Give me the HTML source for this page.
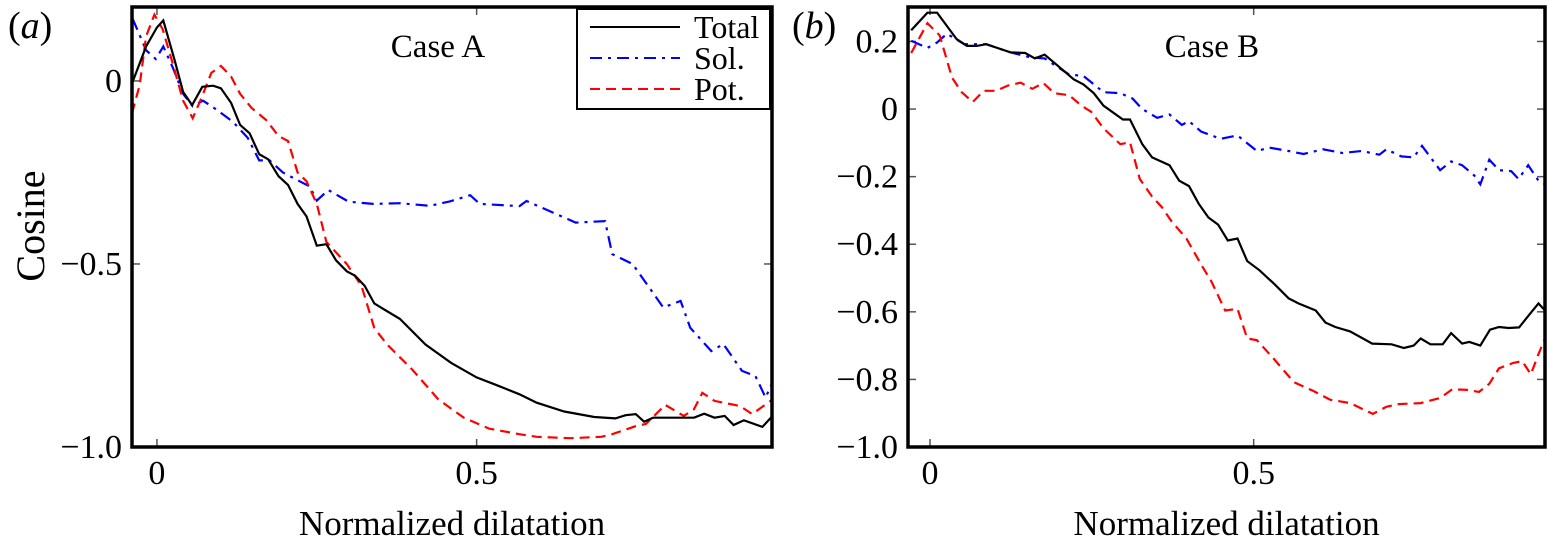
<!DOCTYPE html>
<html><head><meta charset="utf-8"><style>
html,body{margin:0;padding:0;background:#fff;}
svg{display:block;}
svg text{font-family:"Liberation Serif","Times New Roman",serif !important;}
</style></head><body>
<svg id="fig" width="1548" height="549" viewBox="0 0 1548 549"></svg>
<script>
// Panel A data
const aTotalX=[-0.039,-0.017,0,0.01,0.028,0.041,0.055,0.071,0.088,0.10,0.116,0.13,0.145,0.16,0.174,0.19,0.205,0.22,0.234,0.25,0.265,0.28,0.297,0.31,0.325,0.34,0.38,0.42,0.46,0.5,0.53,0.567,0.594,0.637,0.684,0.717,0.733,0.749,0.762,0.776,0.813,0.84,0.856,0.872,0.888,0.902,0.918,0.947,0.966];
const aTotalY=[-0.007,0.094,0.146,0.165,0.055,-0.03,-0.066,-0.016,-0.013,-0.02,-0.06,-0.12,-0.143,-0.2,-0.214,-0.26,-0.284,-0.336,-0.37,-0.45,-0.446,-0.49,-0.52,-0.532,-0.56,-0.608,-0.65,-0.72,-0.77,-0.81,-0.83,-0.856,-0.879,-0.903,-0.918,-0.922,-0.913,-0.91,-0.931,-0.92,-0.92,-0.92,-0.909,-0.92,-0.915,-0.94,-0.927,-0.945,-0.909];
const aSolX=[-0.038,-0.017,-0.002,0.01,0.025,0.041,0.056,0.072,0.093,0.119,0.142,0.16,0.176,0.197,0.223,0.239,0.25,0.268,0.30,0.338,0.38,0.427,0.458,0.49,0.505,0.567,0.578,0.637,0.655,0.701,0.712,0.744,0.792,0.819,0.834,0.867,0.886,0.915,0.936,0.952,0.966];
const aSolY=[0.17,0.084,0.06,0.094,0.036,-0.035,-0.069,-0.054,-0.078,-0.112,-0.155,-0.217,-0.217,-0.25,-0.274,-0.288,-0.327,-0.298,-0.33,-0.336,-0.334,-0.341,-0.329,-0.312,-0.336,-0.342,-0.328,-0.373,-0.387,-0.383,-0.473,-0.5,-0.619,-0.601,-0.674,-0.738,-0.719,-0.792,-0.806,-0.865,-0.81];
const aPotX=[-0.039,-0.027,-0.017,-0.004,0.009,0.025,0.041,0.056,0.07,0.085,0.10,0.116,0.13,0.148,0.171,0.19,0.205,0.22,0.234,0.25,0.265,0.297,0.32,0.34,0.36,0.4,0.44,0.48,0.52,0.567,0.594,0.647,0.695,0.712,0.749,0.765,0.795,0.824,0.84,0.853,0.872,0.912,0.931,0.963];
const aPotY=[-0.088,-0.011,0.122,0.181,0.141,0.046,-0.054,-0.102,-0.045,0.022,0.041,0.012,-0.035,-0.074,-0.107,-0.15,-0.164,-0.25,-0.274,-0.336,-0.44,-0.5,-0.56,-0.675,-0.72,-0.79,-0.87,-0.92,-0.95,-0.965,-0.972,-0.976,-0.972,-0.965,-0.943,-0.937,-0.885,-0.915,-0.897,-0.852,-0.874,-0.888,-0.91,-0.87];
// Panel B data
const bTotalX=[-0.029,-0.004,0.011,0.041,0.057,0.072,0.087,0.124,0.147,0.162,0.177,0.2,0.222,0.237,0.253,0.268,0.298,0.309,0.328,0.343,0.37,0.385,0.4,0.415,0.43,0.445,0.46,0.475,0.49,0.509,0.532,0.554,0.569,0.596,0.611,0.626,0.649,0.683,0.713,0.732,0.747,0.758,0.773,0.792,0.805,0.822,0.833,0.85,0.865,0.879,0.894,0.91,0.928,0.94,0.95];
const bTotalY=[0.233,0.285,0.285,0.207,0.187,0.187,0.192,0.168,0.166,0.15,0.161,0.124,0.088,0.073,0.047,0.01,-0.031,-0.031,-0.104,-0.143,-0.166,-0.212,-0.228,-0.28,-0.321,-0.342,-0.389,-0.383,-0.45,-0.477,-0.518,-0.56,-0.575,-0.596,-0.632,-0.645,-0.658,-0.694,-0.696,-0.707,-0.7,-0.679,-0.696,-0.696,-0.663,-0.694,-0.689,-0.7,-0.653,-0.645,-0.648,-0.646,-0.603,-0.575,-0.596];
const bSolX=[-0.029,-0.004,0.011,0.026,0.053,0.087,0.124,0.155,0.177,0.215,0.237,0.268,0.294,0.313,0.328,0.351,0.37,0.389,0.4,0.419,0.449,0.475,0.505,0.524,0.554,0.577,0.607,0.637,0.667,0.694,0.705,0.728,0.747,0.76,0.788,0.805,0.822,0.841,0.85,0.864,0.879,0.898,0.909,0.924,0.94,0.95];
const bSolY=[0.202,0.181,0.197,0.223,0.192,0.192,0.168,0.153,0.15,0.102,0.098,0.05,0.047,0.031,0,-0.026,-0.016,-0.047,-0.036,-0.067,-0.088,-0.078,-0.124,-0.114,-0.124,-0.133,-0.119,-0.13,-0.124,-0.135,-0.119,-0.14,-0.143,-0.109,-0.181,-0.155,-0.166,-0.197,-0.223,-0.15,-0.181,-0.184,-0.207,-0.166,-0.212,-0.223];
const bPotX=[-0.029,-0.004,0.015,0.034,0.049,0.066,0.083,0.102,0.121,0.14,0.158,0.175,0.192,0.215,0.234,0.249,0.268,0.294,0.309,0.324,0.343,0.358,0.373,0.396,0.419,0.434,0.456,0.475,0.49,0.505,0.532,0.562,0.592,0.618,0.649,0.684,0.705,0.724,0.758,0.788,0.807,0.83,0.848,0.864,0.879,0.901,0.915,0.928,0.94,0.95];
const bPotY=[0.166,0.254,0.218,0.093,0.05,0.021,0.054,0.054,0.07,0.078,0.06,0.077,0.047,0.041,0.01,-0.008,-0.057,-0.104,-0.098,-0.207,-0.259,-0.29,-0.332,-0.383,-0.461,-0.508,-0.596,-0.591,-0.679,-0.684,-0.741,-0.808,-0.834,-0.86,-0.87,-0.902,-0.881,-0.873,-0.87,-0.855,-0.829,-0.831,-0.837,-0.813,-0.767,-0.751,-0.746,-0.785,-0.725,-0.679];
const aYTicks=[0,-0.5,-1.0];
const aYLabels=["0","\u22120.5","\u22121.0"];
const bYTicks=[0.2,0,-0.2,-0.4,-0.6,-0.8,-1.0];
const bYLabels=["0.2","0","\u22120.2","\u22120.4","\u22120.6","\u22120.8","\u22121.0"];
const xTicks=[0,0.5];
const xLabels=["0","0.5"];

const NS="http://www.w3.org/2000/svg";
const svg=document.getElementById('fig');
function mk(tag,attrs,parent){const e=document.createElementNS(NS,tag);for(const k in attrs)e.setAttribute(k,attrs[k]);(parent||svg).appendChild(e);return e;}
function fs(n,extra){return 'font-family:"Liberation Serif",serif;font-size:'+n+'px;'+(extra||'');}

function panel(p){
  const g=mk('g',{});
  
  
  const sx=v=>p.L+(v-p.xmin)/(p.xmax-p.xmin)*(p.R-p.L);
  const sy=v=>p.B-(v-p.ymin)/(p.ymax-p.ymin)*(p.B-p.T);
  p.yt.forEach((v,i)=>{
    const y=sy(v);
    const t1=mk('line',{x1:p.L,x2:p.L+8,y1:y,y2:y,stroke:'#555','stroke-width':1.5},g);
    
    
    const t2=mk('line',{x1:p.R-8,x2:p.R,y1:y,y2:y,stroke:'#555','stroke-width':1.5},g);
    
    
    const tx=mk('text',{x:p.L-10,y:y+11,'text-anchor':'end',style:fs(34),fill:'#000'},g);
    tx.textContent=p.yl[i];
    
    
  });
  xTicks.forEach((v,i)=>{
    const x=sx(v);
    const t1=mk('line',{x1:x,x2:x,y1:p.B,y2:p.B-8,stroke:'#555','stroke-width':1.5},g);
    
    
    const t2=mk('line',{x1:x,x2:x,y1:p.T,y2:p.T+8,stroke:'#555','stroke-width':1.5},g);
    
    
    const tx=mk('text',{x:x,y:p.B+37,'text-anchor':'middle',style:fs(34),fill:'#000'},g);
    tx.textContent=xLabels[i];
    
    
  });
  const clip=mk('clipPath',{id:'c'+p.id},g);
  mk('rect',{x:p.L,y:p.T,width:p.R-p.L,height:p.B-p.T},clip);
  p.series.forEach(s=>{
    const d=s.x.map((xv,i)=>(i?'L':'M')+sx(xv).toFixed(1)+','+sy(s.y[i]).toFixed(1)).join('');
    const path=mk('path',{d:d,fill:'none',stroke:s.c,'stroke-width':2.2,'stroke-dasharray':s.dash,'clip-path':'url(#c'+p.id+')'},g);
    
    
  });
  const fr=mk('rect',{x:p.L,y:p.T,width:p.R-p.L,height:p.B-p.T,fill:'none',stroke:'#000','stroke-width':3.5},g);
  
  
  const xl=mk('text',{x:(p.L+p.R)/2,y:535,'text-anchor':'middle',style:fs(35)},g);
  xl.textContent='Normalized dilatation';
  
  
  const pl=mk('text',{x:p.lx,y:38,style:fs(38)},g);
  pl.innerHTML='(<tspan font-style="italic">'+p.letter+'</tspan>)';
  
  
  const ct=mk('text',{x:p.cx,y:57,'text-anchor':'middle',style:fs(33)},g);
  ct.textContent=p.title;
  
  
  return g;
}
const sols='12 6 3 6', pots='10 6';
panel({id:'panel-a',L:132,R:772,T:7,B:447,xmin:-0.039,xmax:0.962,ymin:-1.0,ymax:0.202,yt:aYTicks,yl:aYLabels,lx:8,letter:'a',cx:438,title:'Case A',
  series:[{name:'sol-line-a',x:aSolX,y:aSolY,c:'#0000ff',dash:sols},{name:'pot-line-a',x:aPotX,y:aPotY,c:'#ff0000',dash:pots},{name:'total-line-a',x:aTotalX,y:aTotalY,c:'#000',dash:'none'}]});
panel({id:'panel-b',L:908,R:1545,T:7,B:447,xmin:-0.034,xmax:0.95,ymin:-1.0,ymax:0.302,yt:bYTicks,yl:bYLabels,lx:792,letter:'b',cx:1212,title:'Case B',
  series:[{name:'sol-line-b',x:bSolX,y:bSolY,c:'#0000ff',dash:sols},{name:'pot-line-b',x:bPotX,y:bPotY,c:'#ff0000',dash:pots},{name:'total-line-b',x:bTotalX,y:bTotalY,c:'#000',dash:'none'}]});
const yt=mk('text',{x:0,y:0,'text-anchor':'middle',style:fs(40),transform:'translate(44,226) rotate(-90)'});
yt.textContent='Cosine';


const lg=mk('g',{});


mk('rect',{x:577,y:9,width:193,height:100,fill:'#fff',stroke:'#000','stroke-width':2},lg);
const entries=[['Total','#000','none'],['Sol.','#0000ff',sols],['Pot.','#ff0000',pots]];
entries.forEach((e,i)=>{
  const y=27+i*31;
  const ln=mk('line',{x1:590,x2:680,y1:y,y2:y,stroke:e[1],'stroke-width':2,'stroke-dasharray':e[2]},lg);
  
  
  const t=mk('text',{x:694,y:y+11,style:fs(32)},lg);
  t.textContent=e[0];
  
  
});
</script>
</body></html>
